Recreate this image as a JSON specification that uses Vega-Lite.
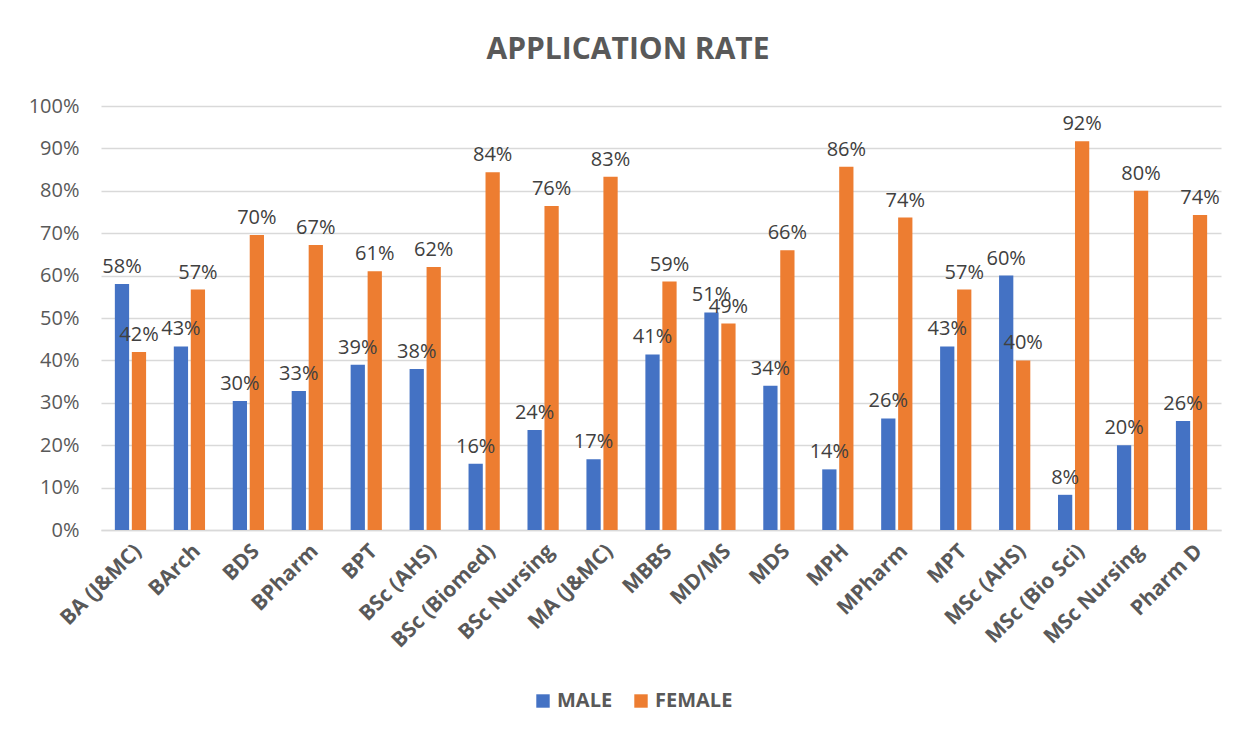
{
  "$schema": "https://vega.github.io/schema/vega-lite/v6.json",
  "autosize": {"type": "none"},
  "width": 1120,
  "height": 424,
  "padding": {"left": 101, "top": 106, "right": 28, "bottom": 201},
  "background": "white",
  "config": {"view": {"stroke": null}},
  "title": {
    "text": "APPLICATION RATE",
    "fontSize": 30,
    "fontWeight": "bold",
    "font": "Open Sans",
    "color": "#595959",
    "anchor": "middle",
    "dx": -33,
    "offset": 31
  },
  "data": {
    "values": [
      {"course": "BA (J&MC)", "gender": "MALE", "rate": 0.58},
      {"course": "BA (J&MC)", "gender": "FEMALE", "rate": 0.42},
      {"course": "BArch", "gender": "MALE", "rate": 0.433},
      {"course": "BArch", "gender": "FEMALE", "rate": 0.567},
      {"course": "BDS", "gender": "MALE", "rate": 0.304},
      {"course": "BDS", "gender": "FEMALE", "rate": 0.696},
      {"course": "BPharm", "gender": "MALE", "rate": 0.328},
      {"course": "BPharm", "gender": "FEMALE", "rate": 0.672},
      {"course": "BPT", "gender": "MALE", "rate": 0.39},
      {"course": "BPT", "gender": "FEMALE", "rate": 0.61},
      {"course": "BSc (AHS)", "gender": "MALE", "rate": 0.38},
      {"course": "BSc (AHS)", "gender": "FEMALE", "rate": 0.62},
      {"course": "BSc (Biomed)", "gender": "MALE", "rate": 0.156},
      {"course": "BSc (Biomed)", "gender": "FEMALE", "rate": 0.844},
      {"course": "BSc Nursing", "gender": "MALE", "rate": 0.236},
      {"course": "BSc Nursing", "gender": "FEMALE", "rate": 0.764},
      {"course": "MA (J&MC)", "gender": "MALE", "rate": 0.167},
      {"course": "MA (J&MC)", "gender": "FEMALE", "rate": 0.833},
      {"course": "MBBS", "gender": "MALE", "rate": 0.414},
      {"course": "MBBS", "gender": "FEMALE", "rate": 0.586},
      {"course": "MD/MS", "gender": "MALE", "rate": 0.513},
      {"course": "MD/MS", "gender": "FEMALE", "rate": 0.487},
      {"course": "MDS", "gender": "MALE", "rate": 0.34},
      {"course": "MDS", "gender": "FEMALE", "rate": 0.66},
      {"course": "MPH", "gender": "MALE", "rate": 0.143},
      {"course": "MPH", "gender": "FEMALE", "rate": 0.857},
      {"course": "MPharm", "gender": "MALE", "rate": 0.263},
      {"course": "MPharm", "gender": "FEMALE", "rate": 0.737},
      {"course": "MPT", "gender": "MALE", "rate": 0.433},
      {"course": "MPT", "gender": "FEMALE", "rate": 0.567},
      {"course": "MSc (AHS)", "gender": "MALE", "rate": 0.60},
      {"course": "MSc (AHS)", "gender": "FEMALE", "rate": 0.40},
      {"course": "MSc (Bio Sci)", "gender": "MALE", "rate": 0.083},
      {"course": "MSc (Bio Sci)", "gender": "FEMALE", "rate": 0.917},
      {"course": "MSc Nursing", "gender": "MALE", "rate": 0.20},
      {"course": "MSc Nursing", "gender": "FEMALE", "rate": 0.80},
      {"course": "Pharm D", "gender": "MALE", "rate": 0.257},
      {"course": "Pharm D", "gender": "FEMALE", "rate": 0.743}
    ]
  },
  "encoding": {
    "x": {
      "field": "course",
      "type": "nominal",
      "sort": null,
      "title": null,
      "scale": {"paddingInner": 0.47, "paddingOuter": 0.235},
      "axis": {
        "labelAngle": -45,
        "labelFont": "Open Sans",
        "labelFontSize": 21,
        "labelFontWeight": "bold",
        "labelColor": "#595959",
        "labelOverlap": false,
        "domainColor": "#d9d9d9",
        "domainWidth": 1.5,
        "ticks": false,
        "labelPadding": 10
      }
    },
    "xOffset": {"field": "gender", "type": "nominal", "sort": ["MALE", "FEMALE"], "scale": {"paddingInner": 0.16}},
    "y": {
      "field": "rate",
      "type": "quantitative",
      "title": null,
      "scale": {"domain": [0, 1]},
      "axis": {
        "format": ".0%",
        "values": [0, 0.1, 0.2, 0.3, 0.4, 0.5, 0.6, 0.7, 0.8, 0.9, 1],
        "labelOverlap": false,
        "labelFont": "Open Sans",
        "labelFontSize": 20,
        "labelColor": "#595959",
        "labelPadding": 22,
        "domain": false,
        "ticks": false,
        "gridColor": "#d9d9d9",
        "gridWidth": 1.5
      }
    }
  },
  "layer": [
    {
      "mark": {"type": "bar"},
      "encoding": {
        "color": {
          "field": "gender",
          "type": "nominal",
          "sort": ["MALE", "FEMALE"],
          "scale": {"domain": ["MALE", "FEMALE"], "range": ["#4472C4", "#ED7D31"]},
          "legend": {
            "title": null,
            "orient": "none",
            "direction": "horizontal",
            "legendX": 432,
            "legendY": 585,
            "symbolType": "square",
            "symbolSize": 180,
            "symbolStrokeWidth": 0,
            "labelFont": "Open Sans",
            "labelFontSize": 20,
            "labelFontWeight": "bold",
            "labelColor": "#595959",
            "columnPadding": 18
          }
        }
      }
    },
    {
      "mark": {"type": "text", "baseline": "bottom", "dy": -7, "font": "Open Sans", "fontSize": 20, "color": "#404040"},
      "encoding": {
        "text": {"field": "rate", "type": "quantitative", "format": ".0%"}
      }
    }
  ]
}
